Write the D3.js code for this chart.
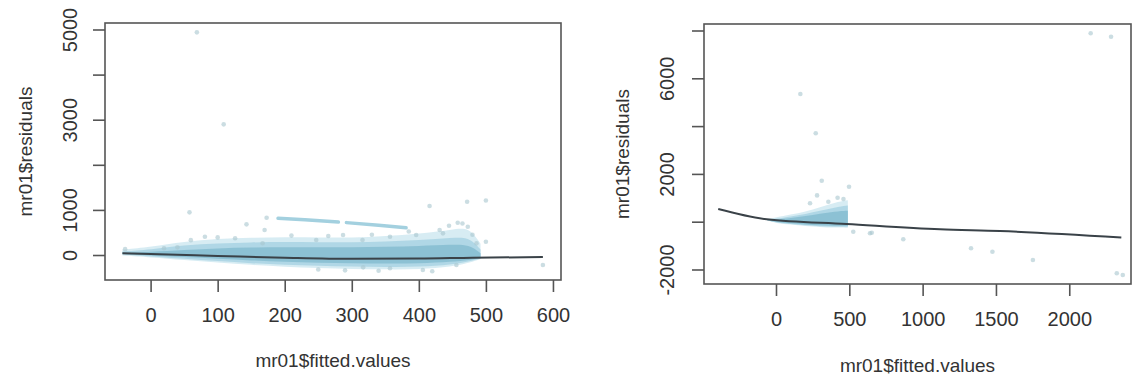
<!DOCTYPE html>
<html>
<head>
<meta charset="utf-8">
<script src="https://cdn.jsdelivr.net/npm/d3@7"></script>
<style>
  body { margin: 0; background: #fff; }
  svg { display: block; font-family: "Liberation Sans", Arial, sans-serif; }
</style>
</head>
<body>
<svg id="chart" width="1132" height="379"></svg>
<script>
// ---- left panel data (mr01: residuals vs fitted) ----
const leftXTicks = [0, 100, 200, 300, 400, 500, 600];
const leftYTicks = [0, 1000, 2000, 3000, 4000, 5000];
const leftYLabels = ["0", "1000", "", "3000", "", "5000"];

// envelopes of the dense point cloud
const leftCloudX = [-42, 0, 50, 100, 150, 200, 250, 300, 350, 400, 450, 475, 492];
const leftCloudHi = [120, 180, 300, 360, 380, 400, 390, 380, 420, 470, 560, 620, 250];
const leftCloudLo = [-10, -50, -110, -170, -220, -260, -290, -310, -320, -320, -260, -170, -90];
const leftMidHi = [80, 120, 220, 260, 280, 290, 280, 280, 300, 330, 380, 400, 120];
const leftMidLo = [15, -35, -85, -135, -185, -215, -240, -255, -265, -265, -215, -140, -80];
const leftCoreHi = [55, 70, 110, 150, 170, 175, 170, 170, 180, 200, 230, 230, 40];
const leftCoreLo = [25, -10, -45, -85, -120, -150, -170, -185, -190, -190, -150, -110, -65];

// band of points sitting above the cloud
const leftStreakX = [190, 230, 280];
const leftStreakY = [814, 780, 730];
const leftStreak2X = [292, 340, 381];
const leftStreak2Y = [718, 660, 605];

// individual points
const leftPtsX = [69, 109, 58, 416, 472, 500, 585, 500, 458, 143, 170, 173, 81, 126, 167, 247, 287, 316, 357, 396, 431, 473, 486, 436, 357, 406, 456, 317, -38, 20, 40, 60, 100, 210, 265, 330, 385, 445, 465, 480, 250, 290, 340, 420];
const leftPtsY = [4937, 2897, 946, 1086, 1182, 1210, -222, 295, 716, 680, 554, 827, 405, 370, 260, 333, 443, 333, 405, 443, 554, 627, 259, 480, -295, -332, -222, -273, 130, 150, 170, 330, 390, 430, 420, 450, 520, 650, 700, 450, -320, -340, -350, -360];

// smoother line
const leftLineX = [-42, 0, 100, 200, 300, 400, 480, 585];
const leftLineY = [40, 20, -20, -60, -85, -80, -60, -45];

// ---- right panel data ----
const rightXTicks = [0, 500, 1000, 1500, 2000];
const rightYTicks = [-2000, 0, 2000, 4000, 6000, 8000];
const rightYLabels = ["-2000", "", "2000", "", "6000", ""];

const rightCloudX = [-60, 0, 100, 200, 300, 400, 490];
const rightCloudHi = [110, 180, 300, 420, 600, 800, 900];
const rightCloudLo = [60, -60, -120, -180, -220, -250, -250];
const rightMidHi = [90, 120, 220, 320, 450, 600, 680];
const rightMidLo = [60, -40, -100, -150, -190, -210, -210];
const rightCoreHi = [80, 80, 150, 230, 330, 420, 460];
const rightCoreLo = [60, -20, -70, -120, -150, -170, -170];

const rightPtsX = [166, 271, 312, 498, 232, 357, 527, 653, 868, 1330, 1476, 1752, 2146, 2285, 2324, 2365, 641, 280, 420, 460];
const rightPtsY = [5343, 3699, 1715, 1464, 770, 837, -418, -460, -736, -1113, -1255, -1602, 7883, 7741, -2159, -2230, -485, 1100, 1000, 950];

const rightLineX = [-394, -63, 482, 1119, 1528, 2355];
const rightLineY = [531, 100, -96, -318, -389, -660];

const svg = d3.select("#chart");

function drawPanel(cfg) {
  const x = d3.scaleLinear().domain(cfg.xDomain).range([cfg.left, cfg.right]);
  const y = d3.scaleLinear().domain(cfg.yDomain).range([cfg.bottom, cfg.top]);
  const g = svg.append("g");

  const clip = "clip" + cfg.id;
  g.append("clipPath").attr("id", clip).append("rect")
    .attr("x", cfg.left).attr("y", cfg.top)
    .attr("width", cfg.right - cfg.left).attr("height", cfg.bottom - cfg.top);
  const plot = g.append("g").attr("clip-path", "url(#" + clip + ")");

  const band = (xs, hi, lo) => d3.area()
    .x((d, i) => x(xs[i]))
    .y0((d, i) => y(lo[i]))
    .y1((d, i) => y(hi[i]))
    .curve(d3.curveBasis)(xs);

  plot.append("path").attr("d", band(cfg.cloudX, cfg.cloudHi, cfg.cloudLo))
    .attr("fill", "#cde7f0").attr("opacity", 0.8);
  plot.append("path").attr("d", band(cfg.cloudX, cfg.midHi, cfg.midLo))
    .attr("fill", "#a9d4e3").attr("opacity", 0.85);
  plot.append("path").attr("d", band(cfg.cloudX, cfg.coreHi, cfg.coreLo))
    .attr("fill", "#88bfd2").attr("opacity", 0.9);

  if (cfg.streaks) {
    cfg.streaks.forEach(s => {
      plot.append("path")
        .attr("d", d3.line().x((d, i) => x(s[0][i])).y((d, i) => y(s[1][i]))(s[0]))
        .attr("fill", "none").attr("stroke", "#a3d0df").attr("stroke-width", 3.5)
        .attr("stroke-linecap", "round");
    });
  }

  plot.selectAll("circle.pt").data(cfg.ptsX).join("circle")
    .attr("class", "pt")
    .attr("cx", (d, i) => x(d))
    .attr("cy", (d, i) => y(cfg.ptsY[i]))
    .attr("r", 2.3)
    .attr("fill", "#a9c6cf").attr("opacity", 0.6);

  plot.append("path")
    .attr("d", d3.line().x((d, i) => x(cfg.lineX[i])).y((d, i) => y(cfg.lineY[i]))
      .curve(d3.curveMonotoneX)(cfg.lineX))
    .attr("fill", "none").attr("stroke", "#3a4248").attr("stroke-width", 2);

  // box
  g.append("rect")
    .attr("x", cfg.left).attr("y", cfg.top)
    .attr("width", cfg.right - cfg.left).attr("height", cfg.bottom - cfg.top)
    .attr("fill", "none").attr("stroke", "#555").attr("stroke-width", 1.6);

  // x axis
  const xa = g.append("g").attr("transform", "translate(0," + cfg.bottom + ")")
    .call(d3.axisBottom(x).tickValues(cfg.xTicks).tickSizeInner(12).tickSizeOuter(0)
      .tickPadding(16).tickFormat(d3.format("d")));
  xa.select(".domain").remove();
  xa.selectAll(".tick line").attr("stroke", "#555").attr("stroke-width", 1.6);
  xa.selectAll("text").attr("font-size", 20).attr("fill", "#333")
    .attr("font-family", "Liberation Sans, Arial, sans-serif");

  // y axis
  const ya = g.append("g").attr("transform", "translate(" + cfg.left + ",0)")
    .call(d3.axisLeft(y).tickValues(cfg.yTicks).tickSizeInner(12).tickSizeOuter(0)
      .tickFormat((d, i) => cfg.yLabels[i]));
  ya.select(".domain").remove();
  ya.selectAll(".tick line").attr("stroke", "#555").attr("stroke-width", 1.6);
  ya.selectAll("text")
    .attr("font-size", 20).attr("fill", "#333")
    .attr("font-family", "Liberation Sans, Arial, sans-serif")
    .attr("x", null)
    .attr("text-anchor", "middle")
    .attr("transform", "translate(" + (cfg.yLabelX - cfg.left) + ",0) rotate(-90)")
    .attr("dy", "0.35em");

  g.append("text")
    .attr("x", (cfg.left + cfg.right) / 2).attr("y", cfg.xTitleY)
    .attr("text-anchor", "middle").attr("font-size", 19).attr("fill", "#333")
    .text("mr01$fitted.values");
  g.append("text")
    .attr("transform", "translate(" + cfg.yTitleX + "," + (cfg.top + cfg.bottom) / 2 + ") rotate(-90)")
    .attr("text-anchor", "middle").attr("dy", "0.35em").attr("font-size", 19).attr("fill", "#333")
    .text("mr01$residuals");
}

drawPanel({
  id: "L", left: 105, right: 561, top: 23, bottom: 280,
  xDomain: [-68, 612], yDomain: [-554, 5144],
  xTicks: leftXTicks, yTicks: leftYTicks, yLabels: leftYLabels,
  cloudX: leftCloudX, cloudHi: leftCloudHi, cloudLo: leftCloudLo,
  midHi: leftMidHi, midLo: leftMidLo,
  coreHi: leftCoreHi, coreLo: leftCoreLo,
  streaks: [[leftStreakX, leftStreakY], [leftStreak2X, leftStreak2Y]],
  ptsX: leftPtsX, ptsY: leftPtsY, lineX: leftLineX, lineY: leftLineY,
  yLabelX: 70, yTitleX: 25, xTitleY: 367
});

drawPanel({
  id: "R", left: 704, right: 1131, top: 24, bottom: 284,
  xDomain: [-491, 2421], yDomain: [-2607, 8272],
  xTicks: rightXTicks, yTicks: rightYTicks, yLabels: rightYLabels,
  cloudX: rightCloudX, cloudHi: rightCloudHi, cloudLo: rightCloudLo,
  midHi: rightMidHi, midLo: rightMidLo,
  coreHi: rightCoreHi, coreLo: rightCoreLo,
  ptsX: rightPtsX, ptsY: rightPtsY, lineX: rightLineX, lineY: rightLineY,
  yLabelX: 667, yTitleX: 622, xTitleY: 372
});
</script>
</body>
</html>
